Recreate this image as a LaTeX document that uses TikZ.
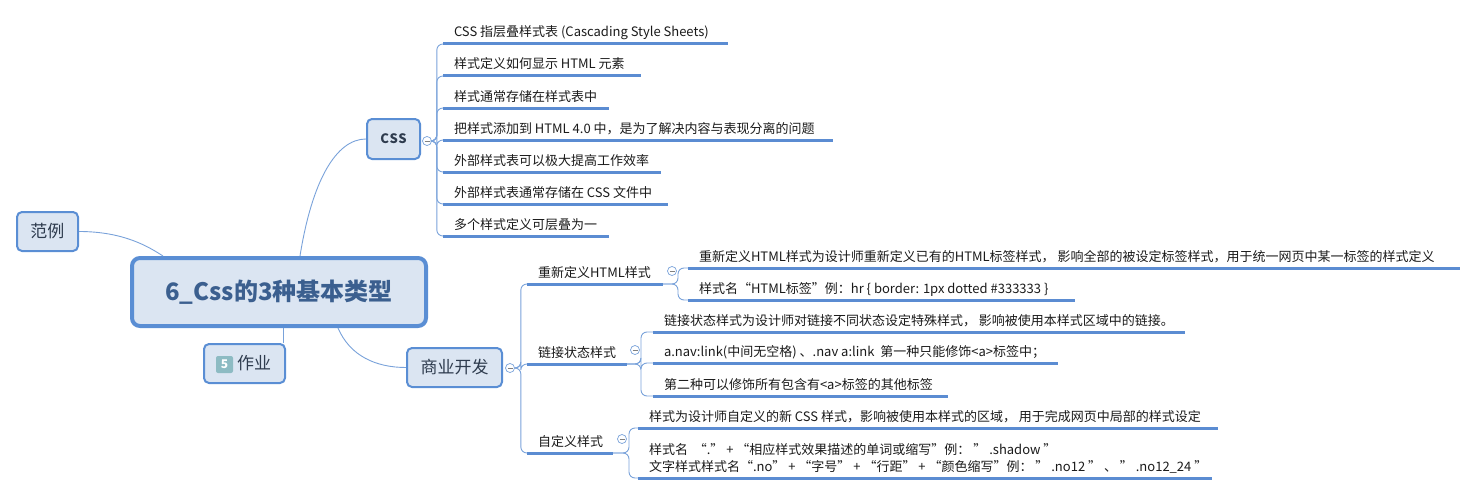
\documentclass[tikz,border=0pt]{standalone}
\usepackage{fontspec}
\setmainfont{Noto Sans CJK SC}
\definecolor{boxblue}{HTML}{5A8ED4}
\definecolor{boxfill}{HTML}{DBE5F2}
\definecolor{boxtext}{HTML}{2E3B4E}
\definecolor{centertext}{HTML}{3B5F8F}
\definecolor{lineblue}{HTML}{5B8CD2}
\definecolor{connblue}{HTML}{79A2DA}
\definecolor{leaftext}{HTML}{1A1A1A}
\definecolor{badge}{HTML}{8DBBC3}
\newcommand\lbox[2]{\makebox[\dimexpr #1pt-22pt\relax][l]{#2}}
\begin{document}
\begin{tikzpicture}[x=1pt,y=-1pt,
  box/.style={draw=boxblue, fill=boxfill, line width=2pt, rounded corners=5pt, inner sep=0pt, text=boxtext, font=\fontsize{17}{20}\selectfont},
  leaf/.style={anchor=south west, inner xsep=11pt, inner ysep=4pt, outer sep=0pt, text height=10pt, text depth=3pt, font=\fontsize{13}{17}\selectfont, text=leaftext},
  uline/.style={draw=lineblue, line width=3pt},
  conn/.style={draw=connblue, line width=0.9pt},
  brace/.style={conn, rounded corners=6pt},
  fold/.style={circle, draw=connblue, fill=white, line width=0.7pt, minimum size=9pt, inner sep=0pt,
    path picture={\draw[draw=gray, line width=0.7pt] ([xshift=-2.5pt]path picture bounding box.center) -- ([xshift=2.5pt]path picture bounding box.center);}}
]
\useasboundingbox (0,0) rectangle (1478,495);

% main nodes
\node[draw=boxblue, fill=boxfill, line width=4pt, rounded corners=8pt, minimum width=294pt, minimum height=68pt, inner sep=0pt, text=centertext, font=\fontsize{24}{28}\selectfont\bfseries] (c) at (279,292) {6\_Css的3种基本类型};
\node[box, minimum width=61pt, minimum height=39pt] (fl) at (47.5,231.5) {范例};
\node[box, minimum width=81pt, minimum height=39pt] (zy) at (244.5,363.5) {\hspace*{19pt}作业};
\node[fill=badge, rounded corners=2pt, minimum size=17pt, inner sep=0pt, text=white, font=\fontsize{12}{14}\selectfont\bfseries] (b5) at (224.5,364.5) {5};
\node[box, minimum width=95pt, minimum height=39pt] (sy) at (454.5,367.5) {商业开发};
\node[box, minimum width=53pt, minimum height=40pt, font=\fontsize{13}{16}\selectfont\bfseries] (css) at (393.5,139) {C\kern0.6pt S\kern0.6pt S};

% edges from centre
\draw[conn] (fl.east) .. controls +(45,0) and +(-14,-9) .. ([xshift=33pt]c.north west);
\draw[conn] ([xshift=170pt]c.north west) .. controls +(12,-75) and +(-30,0) .. (css.west);
\draw[conn] ([xshift=-3pt]zy.north east) -- ([xshift=-3pt]zy.north east |- c.south);
\draw[conn] ([xshift=208pt]c.south west) .. controls +(12,28) and +(-30,0) .. (sy.west);

% fold markers
\node[fold] (cssf) at (427,141) {};
\node[fold] (syf) at (510,368) {};

% CSS leaves
\node[leaf] (a1) at (443,44) {\lbox{285}{CSS 指层叠样式表 (Cascading Style Sheets)}};
\node[leaf] (a2) at (443,76) {\lbox{198}{样式定义如何显示 HTML 元素}};
\node[leaf] (a3) at (443,108) {\lbox{166}{样式通常存储在样式表中}};
\node[leaf] (a4) at (443,140) {\lbox{390}{把样式添加到 HTML 4.0 中，是为了解决内容与表现分离的问题}};
\node[leaf] (a5) at (443,172) {\lbox{218}{外部样式表可以极大提高工作效率}};
\node[leaf] (a6) at (443,204) {\lbox{225}{外部样式表通常存储在 CSS 文件中}};
\node[leaf] (a7) at (443,236) {\lbox{166}{多个样式定义可层叠为一}};
\foreach \n in {a1,a2,a3,a4,a5,a6,a7}{
  \draw[brace] (cssf.east) -- ++(5,0) |- (\n.south west);
  \draw[uline] (\n.south west) -- (\n.south east);
}

% business branches
\node[leaf] (p1) at (527,284) {\lbox{136}{重新定义HTML样式}};
\node[leaf] (p2) at (527,364) {\lbox{100}{链接状态样式}};
\node[leaf] (p3) at (527,453) {\lbox{86}{自定义样式}};
\foreach \n in {p1,p2,p3}{
  \draw[brace] (syf.east) -- ++(6,0) |- (\n.south west);
  \draw[uline] (\n.south west) -- (\n.south east);
}
\node[fold] (p1f) at (672,271) {};
\node[fold] (p2f) at (635,350) {};
\node[fold] (p3f) at (622,439) {};

% children of p1
\node[leaf] (q1) at (688,268) {\lbox{772}{重新定义HTML样式为设计师重新定义已有的HTML标签样式， 影响全部的被设定标签样式，用于统一网页中某一标签的样式定义}};
\node[leaf] (q2) at (688,300) {\lbox{387}{样式名“HTML标签”例：hr \{ border: 1px dotted \#333333 \}}};
\foreach \n in {q1,q2}{
  \draw[brace] (p1.south east) -- ++(15,0) |- (\n.south west);
  \draw[uline] (\n.south west) -- (\n.south east);
}

% children of p2
\node[leaf] (r1) at (653,332) {\lbox{532}{链接状态样式为设计师对链接不同状态设定特殊样式， 影响被使用本样式区域中的链接。}};
\node[leaf] (r2) at (653,363) {\lbox{405}{a.nav:link(中间无空格) 、.nav a:link\ \ 第一种只能修饰<a>标签中；}};
\node[leaf] (r3) at (653,396) {\lbox{295}{第二种可以修饰所有包含有<a>标签的其他标签}};
\foreach \n in {r1,r2,r3}{
  \draw[brace] (p2.south east) -- ++(14,0) |- (\n.south west);
  \draw[uline] (\n.south west) -- (\n.south east);
}

% children of p3
\node[leaf] (s1) at (638,428) {\lbox{580}{样式为设计师自定义的新 CSS 样式，影响被使用本样式的区域， 用于完成网页中局部的样式设定}};
\node[leaf, text height=27pt] (s2) at (638,478) {\parbox[b]{552pt}{\makebox[552pt][l]{样式名\ \ “.”\ + “相应样式效果描述的单词或缩写”例：\ ” .shadow ”}\\\makebox[552pt][l]{文字样式样式名“.no”\ + “字号”\ + “行距”\ + “颜色缩写”例：\ ” .no12 ”\ 、\ ” .no12\_24 ”}}};
\foreach \n in {s1,s2}{
  \draw[brace] (p3.south east) -- ++(16,0) |- (\n.south west);
  \draw[uline] (\n.south west) -- (\n.south east);
}
\end{tikzpicture}
\end{document}
